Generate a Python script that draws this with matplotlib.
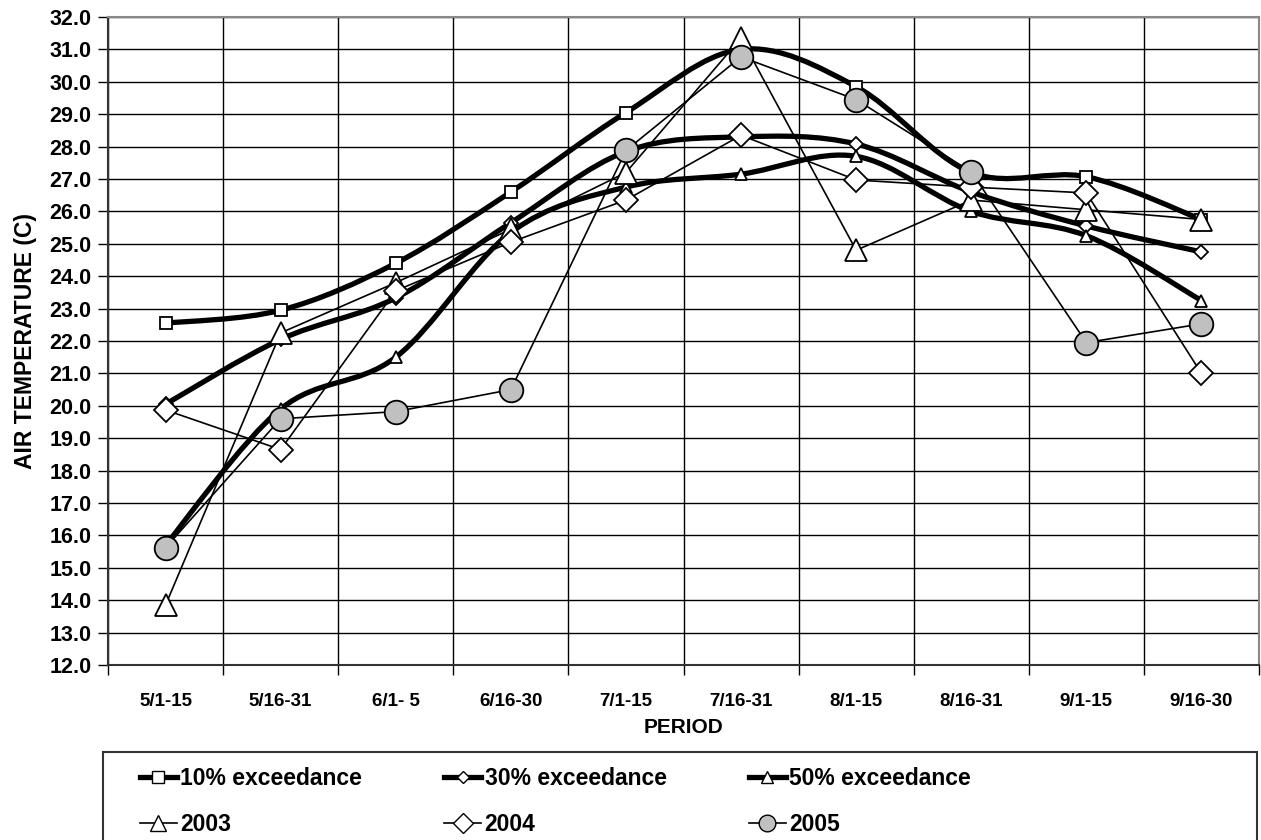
import matplotlib.pyplot as plt
import numpy as np
from matplotlib.path import Path
from matplotlib.patches import PathPatch, Rectangle
from matplotlib.lines import Line2D

plt.rcParams['font.family'] = ['Liberation Sans', 'DejaVu Sans']
plt.rcParams['font.weight'] = 'bold'

periods = ['5/1-15', '5/16-31', '6/1- 5', '6/16-30', '7/1-15',
           '7/16-31', '8/1-15', '8/16-31', '9/1-15', '9/16-30']
exc10 = [22.55, 22.95, 24.4, 26.6, 29.05, 31.0, 29.85, 27.2, 27.07, 25.75]
exc30 = [20.05, 22.05, 23.33, 25.65, 27.85, 28.3, 28.08, 26.6, 25.55, 24.75]
exc50 = [15.7, 19.9, 21.5, 25.35, 26.75, 27.15, 27.7, 26.0, 25.25, 23.25]
y2003 = [13.85, 22.25, 23.8, 25.45, 27.2, 31.35, 24.8, 26.35, 26.05, 25.75]
y2004 = [19.87, 18.65, 23.55, 25.05, 26.35, 28.35, 26.97, 26.75, 26.57, 21.0]
y2005 = [15.62, 19.6, 19.82, 20.5, 27.88, 30.77, 29.45, 27.22, 21.95, 22.53]


def smooth_path(xs, ys):
    # Excel style smoothed line: cubic Bezier segments (Catmull-Rom, tension 1/6)
    pts = np.column_stack([xs, ys]).astype(float)
    n = len(pts)
    verts = [pts[0]]
    codes = [Path.MOVETO]
    for i in range(n - 1):
        p0 = pts[i - 1] if i > 0 else pts[i]
        p1 = pts[i]
        p2 = pts[i + 1]
        p3 = pts[i + 2] if i + 2 < n else pts[i + 1]
        c1 = p1 + (p2 - p0) / 6.0
        c2 = p2 - (p3 - p1) / 6.0
        verts += [c1, c2, p2]
        codes += [Path.CURVE4] * 3
    return Path(verts, codes)


fig = plt.figure(figsize=(12.61, 8.40), dpi=100)
ax = fig.add_axes([108 / 1261, 175 / 840, 1151 / 1261, 648 / 840])

x = np.arange(len(periods))

thick = [(exc10, 's', 8.5), (exc30, 'D', 7), (exc50, '^', 8.5)]
for vals, mk, ms in thick:
    ax.add_patch(PathPatch(smooth_path(x, vals), fill=False, edgecolor='black',
                           lw=3.8, capstyle='round', joinstyle='round', zorder=3))
    ax.plot(x, vals, ls='none', marker=mk, ms=ms, mfc='white', mec='black',
            mew=1.3, zorder=4)

thin = [(y2003, '^', 16, 'white'), (y2004, 'D', 12, 'white'), (y2005, 'o', 17, '#c0c0c0')]
for vals, mk, ms, fc in thin:
    ax.plot(x, vals, color='black', lw=1.2, marker=mk, ms=ms, mfc=fc, mec='black',
            mew=1.3, zorder=5)

ax.set_xlim(-0.5, 9.5)
ax.set_ylim(12, 32)
ax.set_yticks(np.arange(12, 32.1, 1))
ax.set_yticklabels(['%.1f' % v for v in np.arange(12, 32.1, 1)], fontsize=15.5, fontweight='bold')
ax.set_xticks(np.arange(-0.5, 10, 1))
ax.set_xticklabels([])
ax.set_xticks(x, minor=True)
ax.set_xticklabels(periods, minor=True, fontsize=13.5, fontweight='bold')
ax.tick_params(axis='x', which='minor', length=0, pad=20)
ax.tick_params(axis='x', which='major', length=7, width=1, direction='out')
ax.tick_params(axis='y', length=7, width=1, direction='out', pad=5)
ax.grid(True, which='major', color='black', lw=1.0)
ax.set_axisbelow(True)
for s in ['left', 'bottom']:
    ax.spines[s].set_color('#333333')
    ax.spines[s].set_linewidth(1.5)
for s in ['top', 'right']:
    ax.spines[s].set_color('#888888')
    ax.spines[s].set_linewidth(1.5)

ax.set_xlabel('PERIOD', fontsize=15, fontweight='bold', labelpad=6)
ax.set_ylabel('AIR TEMPERATURE (C)', fontsize=16.5, fontweight='bold', labelpad=9)

# legend
handles = [
    Line2D([], [], color='black', lw=3.8, marker='s', ms=8, mfc='white', mec='black'),
    Line2D([], [], color='black', lw=1.2, marker='^', ms=12, mfc='white', mec='black'),
    Line2D([], [], color='black', lw=3.8, marker='D', ms=6.5, mfc='white', mec='black'),
    Line2D([], [], color='black', lw=1.2, marker='D', ms=10, mfc='white', mec='black'),
    Line2D([], [], color='black', lw=3.8, marker='^', ms=8, mfc='white', mec='black'),
    Line2D([], [], color='black', lw=1.2, marker='o', ms=12, mfc='#c0c0c0', mec='black'),
]
labels = ['10% exceedance', '2003', '30% exceedance', '2004', '50% exceedance', '2005']
fig.patches.append(Rectangle((103 / 1261, -0.05), 1154 / 1261, 0.05 + 88 / 840,
                             transform=fig.transFigure, fill=False, ec='#333333', lw=1.5))
fig.legend(handles, labels, ncol=3, loc='upper left',
           bbox_to_anchor=(140 / 1261, 1 - 767 / 840), frameon=False, borderpad=0,
           prop={'size': 16.5, 'weight': 'bold'}, handlelength=1.6, handletextpad=0.15,
           columnspacing=3.6, labelspacing=1.0, borderaxespad=0)

fig.savefig('out.png', dpi=100)
